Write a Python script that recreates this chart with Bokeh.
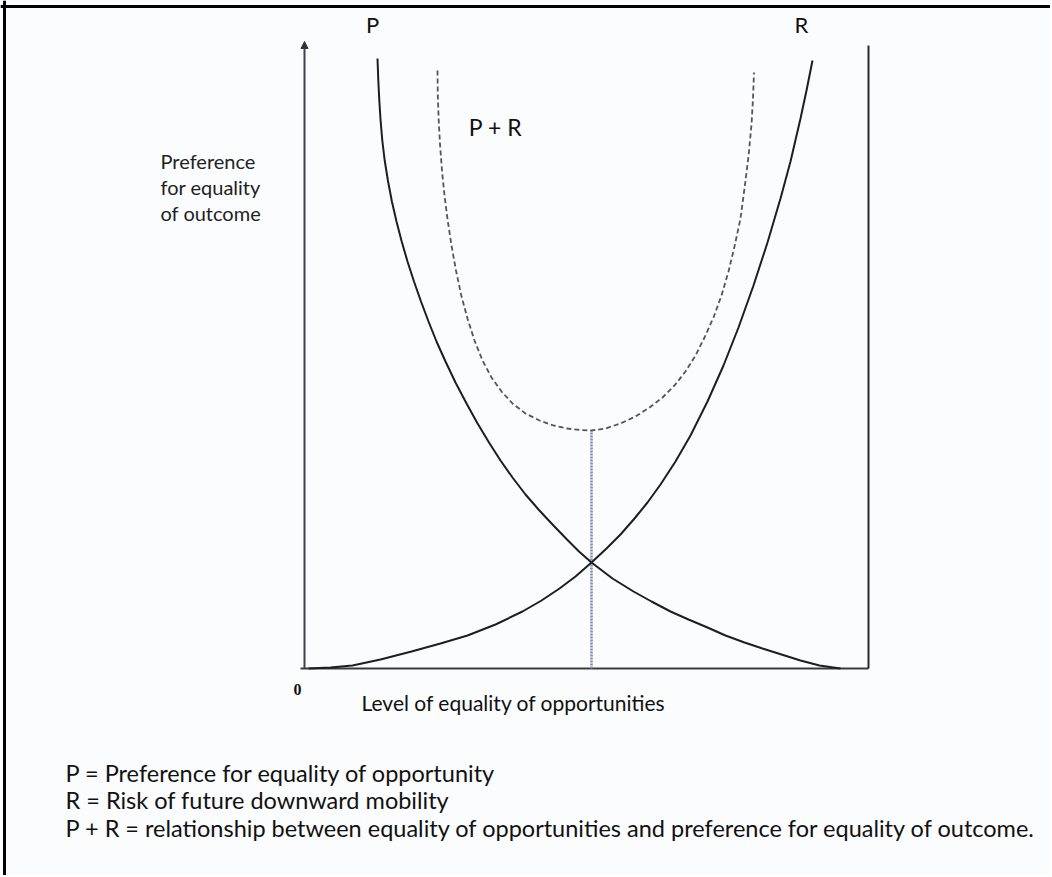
from bokeh.plotting import figure
from bokeh.models import Arrow, NormalHead, Span, Range1d
from bokeh.core.properties import value
from bokeh.embed import file_html
from bokeh.resources import INLINE

# ---- data (arbitrary units: x = level of equality of opportunities,
#      y = preference for equality of outcome; axes run 0..X_MAX and 0..Y_MAX) ----
X_MAX, Y_MAX = 564, 627

p_x = [73, 73.8, 74.8, 76.1, 77.8, 80.2, 83.4, 87.4, 92, 97.2, 103, 109.5, 116.5, 124, 132, 141,
       151, 161.5, 172.5, 184.5, 196, 208, 221, 234, 248, 262.5, 274.5, 287, 308, 329, 347, 366,
       384, 403, 421, 440, 458, 477, 496, 515, 536]
p_y = [610, 588, 568, 548, 528, 508, 488, 467, 447, 427, 407, 387, 367, 347, 327, 307, 286, 266,
       246, 226, 208, 191, 174, 159, 144, 129, 117, 106, 90, 77, 67, 57, 49, 41, 33, 26, 20, 14,
       8, 3, 0]

r_x = [4, 26, 48, 76, 107, 136, 163, 191, 218, 237, 255, 271, 287, 302, 316, 330, 343, 356, 371,
       386, 403, 419, 434, 449, 463, 476, 486, 496, 502, 508]
r_y = [0, 1, 3, 9, 17, 25, 33, 44, 57, 68, 80, 92, 106, 120, 134, 150, 166, 184, 207, 233, 267,
       303, 341, 383, 426, 470, 507, 550, 578, 608]

pr_x = [133, 133.3, 134.2, 135.6, 137.5, 140, 143.2, 147, 151.5, 156.8, 163, 170, 178, 187, 197,
        208, 221, 235, 249, 263, 275, 287, 301, 316, 331, 345, 358, 370, 381, 391, 400, 409, 417,
        424, 430, 436, 440, 444, 447, 448.5, 449.5]
pr_y = [598, 573, 548, 523, 498, 473, 448, 423, 398, 373, 350, 328, 308, 291, 277, 265, 255, 248,
        243, 240, 238.5, 238, 240, 245, 252, 261, 271, 283, 297, 313, 331, 351, 373, 397, 422, 450,
        480, 512, 544, 570, 596]

curve_labels = ["P", "R", "P + R"]
y_label_lines = ["Preference", "for equality", "of outcome"]
x_label = "Level of equality of opportunities"
origin_label = "0"
legend_lines = [
    "P = Preference for equality of opportunity",
    "R = Risk of future downward mobility",
    "P + R = relationship between equality of opportunities and preference for equality of outcome.",
]

# ---- layout: page pixel -> data position (for annotations / text placement) ----
W, H = 1050, 875
OX, OY = 304, 668      # page pixel of the data origin


def dx(px):
    return px - OX


def dy(py):
    return OY - py


p = figure(width=W, height=H, output_backend="svg", toolbar_location=None,
           x_range=Range1d(dx(0), dx(W)), y_range=Range1d(dy(H), dy(0)),
           min_border=0, background_fill_color="#fbfcfd", border_fill_color="#fbfcfd")
p.axis.visible = False
p.grid.visible = False
p.outline_line_color = None

FONT = value("Lato")
INK = "#1e1e1e"

# frame (top and left edges)
p.add_layout(Span(location=dy(6), dimension="width", line_color="black", line_width=3))
p.add_layout(Span(location=dx(4), dimension="height", line_color="black", line_width=3))

# axes
p.segment(x0=[dx(300)], y0=[0], x1=[X_MAX], y1=[0], line_color="#3a3a3a", line_width=2)
p.segment(x0=[X_MAX], y0=[0], x1=[X_MAX], y1=[dy(45)], line_color="#2a2a2a", line_width=2)
p.add_layout(Arrow(end=NormalHead(size=7, fill_color="#333333", line_color="#333333"),
                   x_start=0, y_start=0, x_end=0, y_end=Y_MAX,
                   line_color="#3c4150", line_width=2))

# vertical dotted line at the minimum of P + R
i_min = pr_y.index(min(pr_y))
p.segment(x0=[pr_x[i_min]], y0=[0], x1=[pr_x[i_min]], y1=[pr_y[i_min]],
          line_color="#7f86b2", line_width=2.5, line_dash="2 1")

# curves
p.line(p_x, p_y, line_color=INK, line_width=2)
p.line(r_x, r_y, line_color=INK, line_width=2)
p.line(pr_x, pr_y, line_color="#555555", line_width=1.8, line_dash="5 3")

# curve labels
p.text(x=[dx(372), dx(801)], y=[dy(24), dy(24)], text=curve_labels[:2],
       text_font=FONT, text_font_size="22px", text_color="#111111",
       text_align="center", text_baseline="middle")
p.text(x=[dx(495)], y=[dy(126)], text=curve_labels[2:],
       text_font=FONT, text_font_size="23px", text_color="#111111",
       text_align="center", text_baseline="middle")

# y label
p.text(x=[dx(160)] * 3, y=[dy(160), dy(186), dy(212)], text=y_label_lines,
       text_font=FONT, text_font_size="20px", text_color="#222222",
       text_align="left", text_baseline="middle")

# origin
p.text(x=[dx(297)], y=[dy(689)], text=[origin_label], text_font=value("Liberation Serif"),
       text_font_style="bold", text_font_size="16px", text_color="#111111",
       text_align="center", text_baseline="middle")

# x label
p.text(x=[dx(361)], y=[dy(702)], text=[x_label], text_font=FONT, text_font_size="21px",
       text_color="#111111", text_align="left", text_baseline="middle")

# legend
p.text(x=[dx(65)] * 3, y=[dy(772), dy(799), dy(827)], text=legend_lines,
       text_font=FONT, text_font_size="23.5px", text_color="#111111",
       text_align="left", text_baseline="middle")

open("out.html", "w").write(file_html(p, INLINE))
